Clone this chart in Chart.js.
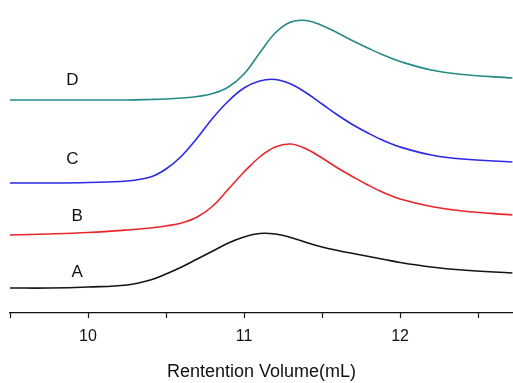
<!DOCTYPE html>
<html>
<head>
<meta charset="utf-8">
<script src="https://cdn.jsdelivr.net/npm/chart.js@4/dist/chart.umd.min.js"></script>
<style>
html,body{margin:0;padding:0;background:#fff;}
#wrap{width:513px;height:383px;position:relative;}
</style>
</head>
<body>
<div id="wrap"><canvas id="c"></canvas></div>
<script>
const volume = [9.5, 9.75, 10.0, 10.25, 10.4, 10.5, 10.6, 10.7, 10.8, 10.9, 11.0, 11.1, 11.2, 11.3, 11.4, 11.5, 11.6, 11.7, 11.8, 11.9, 12.0, 12.2, 12.4, 12.72];
const seriesA = [25, 25, 26, 28, 33, 39, 46, 54, 62, 70, 76, 79.5, 79, 75.5, 70.5, 66, 62.5, 59.5, 56.5, 53.5, 50.5, 46, 43, 40];
const seriesB = [78, 79, 80.5, 83, 85, 87, 90, 96, 107, 124, 141, 156, 166, 169, 164, 155, 145, 136, 127.5, 120, 114, 106.5, 102, 98];
const seriesC = [130, 130, 130.5, 132, 136, 144, 157, 175, 195, 212, 225, 232, 233.5, 229, 220, 209, 198, 188, 179.5, 172, 166, 158, 154, 151];
const seriesD = [213, 213, 213, 213, 213.5, 214, 215, 216.5, 219.5, 226, 239, 260, 280, 291, 292.5, 287.5, 280, 272, 264.5, 257.5, 251.5, 243, 238.5, 235];
const seriesNames = ['A', 'B', 'C', 'D'];
const tickValues = [9.5, 10, 10.5, 11, 11.5, 12, 12.5];
const xTitle = 'Rentention Volume(mL)';

const colors = ['#141414', '#e8262a', '#2a2ae6', '#248a86'];
const allSeries = [seriesA, seriesB, seriesC, seriesD];
// label anchors (x in mL, offset above each curve's start)
const labelX = [9.93, 9.93, 9.9, 9.9];
const labelOffset = [16, 19, 24, 20];

const datasets = allSeries.map((s, i) => ({
  label: seriesNames[i],
  data: volume.map((v, k) => ({x: v, y: s[k]})),
  borderColor: colors[i],
  borderWidth: 1.6,
  pointRadius: 0,
  fill: false,
  tension: 0.4
}));

const curveLabels = {
  id: 'curveLabels',
  afterDatasetsDraw(chart) {
    const ctx = chart.ctx;
    const xs = chart.scales.x, ys = chart.scales.y;
    ctx.save();
    ctx.font = '17px "Liberation Sans", Arial, sans-serif';
    ctx.fillStyle = '#111';
    ctx.textAlign = 'center';
    ctx.textBaseline = 'middle';
    seriesNames.forEach((n, i) => {
      const px = xs.getPixelForValue(labelX[i]);
      const py = ys.getPixelForValue(allSeries[i][0] + labelOffset[i]);
      ctx.fillText(n, px, py);
    });
    ctx.restore();
  }
};

new Chart(document.getElementById('c'), {
  type: 'line',
  data: {datasets},
  options: {
    responsive: true,
    maintainAspectRatio: false,
    animation: false,
    layout: {autoPadding: false, padding: {left: 10, right: 0, top: 0, bottom: 0}},
    plugins: {legend: {display: false}, tooltip: {enabled: false}},
    scales: {
      x: {
        type: 'linear',
        min: 9.5,
        max: 12.724,
        afterBuildTicks: (axis) => { axis.ticks = tickValues.map(v => ({value: v})); },
        afterFit: (axis) => { axis.height = 70; },
        border: {display: true, color: '#111', width: 1.2},
        grid: {drawOnChartArea: false, drawTicks: true, tickLength: 5, tickColor: '#111', tickWidth: 1.2},
        ticks: {
          color: '#111',
          font: {family: '"Liberation Sans", Arial, sans-serif', size: 16},
          padding: 9,
          maxRotation: 0,
          autoSkip: false,
          callback: (v) => Number.isInteger(v) ? String(v) : ''
        },
        title: {
          display: true,
          text: xTitle,
          color: '#111',
          font: {family: '"Liberation Sans", Arial, sans-serif', size: 18},
          padding: {top: 6, bottom: 0}
        }
      },
      y: {
        display: false,
        min: 0,
        max: 313
      }
    }
  },
  plugins: [curveLabels]
});
</script>
</body>
</html>
